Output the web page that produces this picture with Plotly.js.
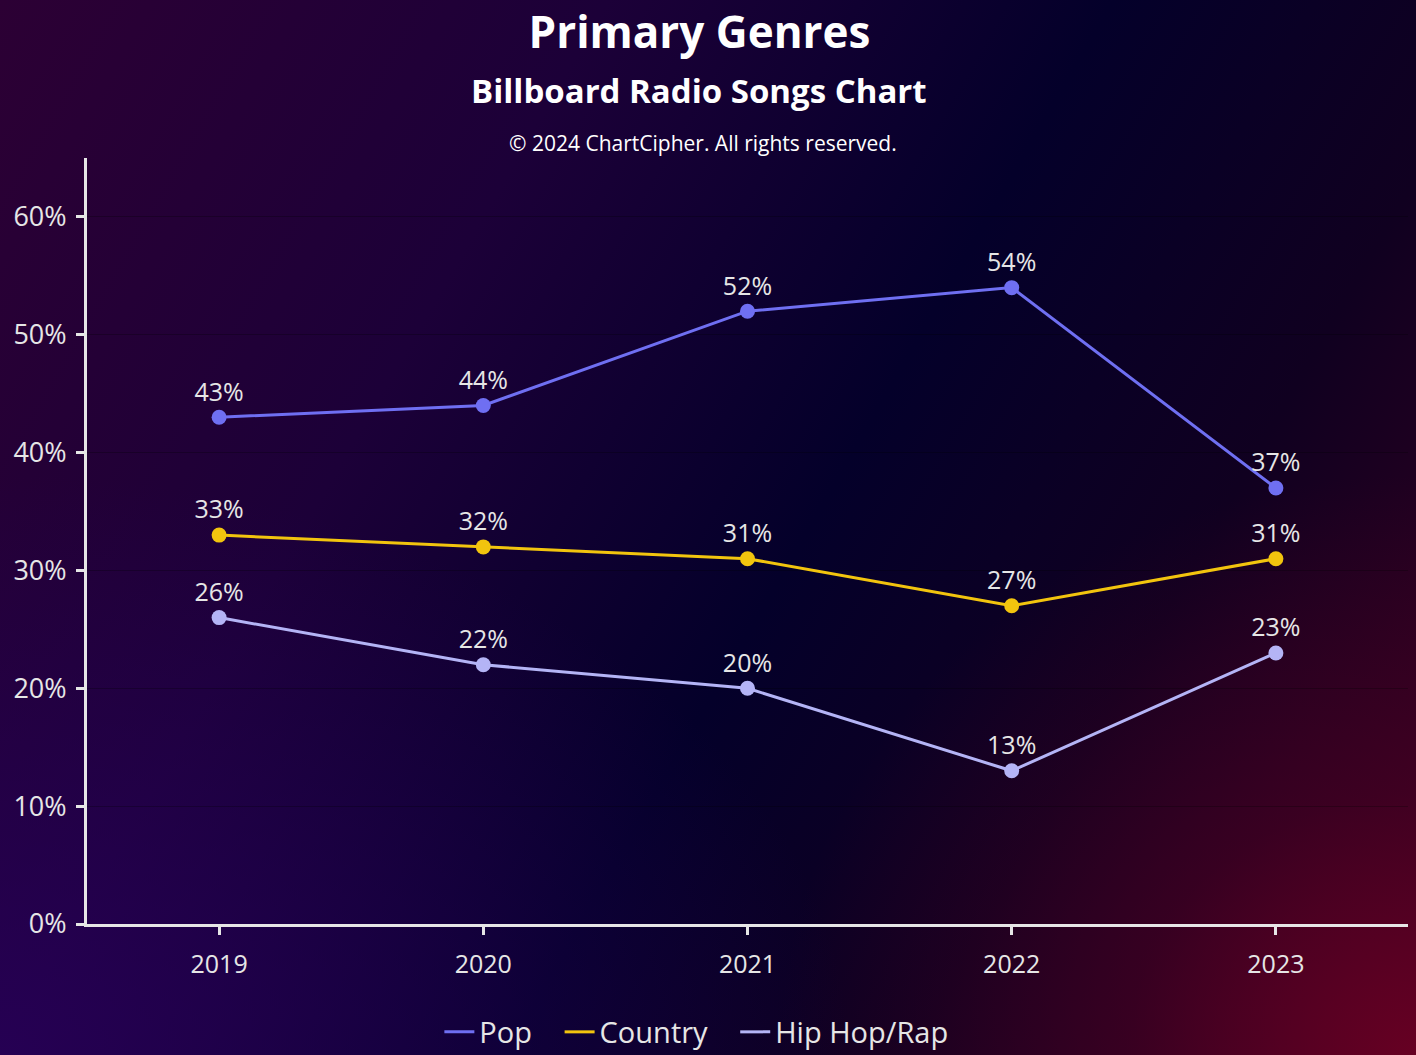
<!DOCTYPE html>
<html>
<head>
<meta charset="utf-8">
<script src="https://cdn.plot.ly/plotly-3.0.1.min.js"></script>
<style>
  html, body { margin: 0; padding: 0; width: 1416px; height: 1055px; overflow: hidden; }
  body {
    background:
      radial-gradient(ellipse 45% 55% at 100% 100%, rgba(110,0,35,0.85) 0%, rgba(90,0,35,0.4) 45%, rgba(60,0,40,0) 100%),
      radial-gradient(ellipse 60% 55% at 0% 100%, rgba(40,0,90,0.8) 0%, rgba(35,0,80,0) 100%),
      linear-gradient(120deg, #2c0034 0%, #1c0038 30%, #04002a 55%, #100020 75%, #3a0020 100%);
  }
  #chart { width: 1416px; height: 1055px; }
</style>
</head>
<body>
<div id="chart"></div>
<script>
const years = ['2019', '2020', '2021', '2022', '2023'];
const pop = [43, 44, 52, 54, 37];
const country = [33, 32, 31, 27, 31];
const hiphop = [26, 22, 20, 13, 23];
const yTicks = [0, 10, 20, 30, 40, 50, 60];
const yTickLabels = ['0%', '10%', '20%', '30%', '40%', '50%', '60%'];
const seriesNames = ['Pop', 'Country', 'Hip Hop/Rap'];
const seriesColors = ['#6f6ff2', '#f2c40e', '#b4b4f6'];

const FONT = '"Open Sans", Lato, sans-serif';

function series(i, vals) {
  return {
    type: 'scatter',
    mode: 'lines+markers+text',
    name: seriesNames[i],
    showlegend: false,
    x: years,
    y: vals,
    text: vals.map(v => v + '%'),
    textposition: 'top center',
    textfont: { family: FONT, size: 25, color: '#e6e6e6' },
    line: { color: seriesColors[i], width: 3 },
    marker: { color: seriesColors[i], size: 15 },
    cliponaxis: false,
    hoverinfo: 'x+y'
  };
}

function legendEntry(i) {
  return {
    type: 'scatter',
    mode: 'lines',
    name: seriesNames[i] + '   ',
    x: [null],
    y: [null],
    line: { color: seriesColors[i], width: 3 },
    hoverinfo: 'skip'
  };
}

const data = [
  series(0, pop),
  series(1, country),
  series(2, hiphop),
  legendEntry(0),
  legendEntry(1),
  legendEntry(2)
];

const plotTop = 158, plotBottom = 924, plotH = plotBottom - plotTop;
function paperY(py) { return (plotBottom - py) / plotH; }

const layout = {
  width: 1416,
  height: 1055,
  paper_bgcolor: 'rgba(0,0,0,0)',
  plot_bgcolor: 'rgba(0,0,0,0)',
  margin: { l: 87, r: 8, t: 158, b: 131 },
  title: {
    text: '<b>Primary Genres</b>',
    font: { family: FONT, size: 44, color: '#ffffff' },
    x: 0.494, xanchor: 'center',
    y: 1 - 33 / 1055, yanchor: 'middle'
  },
  annotations: [
    {
      text: '<b>Billboard Radio Songs Chart</b>',
      xref: 'paper', yref: 'paper',
      x: 0.463, y: paperY(90), xanchor: 'center', yanchor: 'middle',
      showarrow: false,
      font: { family: FONT, size: 33, color: '#ffffff' }
    },
    {
      text: '© 2024 ChartCipher. All rights reserved.',
      xref: 'paper', yref: 'paper',
      x: 0.466, y: paperY(143), xanchor: 'center', yanchor: 'middle',
      showarrow: false,
      font: { family: FONT, size: 21, color: '#ffffff' }
    }
  ],
  xaxis: {
    type: 'category',
    range: [-0.5, 4.5],
    showline: true, linecolor: '#e6e6e6', linewidth: 3,
    ticks: 'outside', ticklen: 8, tickwidth: 3, tickcolor: '#e6e6e6',
    ticklabelstandoff: 8,
    showgrid: false, zeroline: false,
    tickfont: { family: FONT, size: 25, color: '#e6e6e6' },
    fixedrange: true
  },
  yaxis: {
    range: [0, 65],
    tickvals: yTicks,
    ticktext: yTickLabels,
    showline: true, linecolor: '#e6e6e6', linewidth: 3,
    ticks: 'outside', ticklen: 8, tickwidth: 3, tickcolor: '#e6e6e6',
    ticklabelstandoff: 4,
    showgrid: true, gridcolor: 'rgba(0,0,0,0.25)', gridwidth: 1,
    zeroline: false,
    tickfont: { family: FONT, size: 27, color: '#e6e6e6' },
    fixedrange: true
  },
  showlegend: true,
  legend: {
    orientation: 'h',
    x: 0.47, xanchor: 'center',
    yref: 'container', y: 1 - 1032 / 1055, yanchor: 'middle',
    font: { family: FONT, size: 29, color: '#e6e6e6' },
    bgcolor: 'rgba(0,0,0,0)',
    itemwidth: 30
  }
};

Plotly.newPlot('chart', data, layout, { displayModeBar: false });
</script>
</body>
</html>
